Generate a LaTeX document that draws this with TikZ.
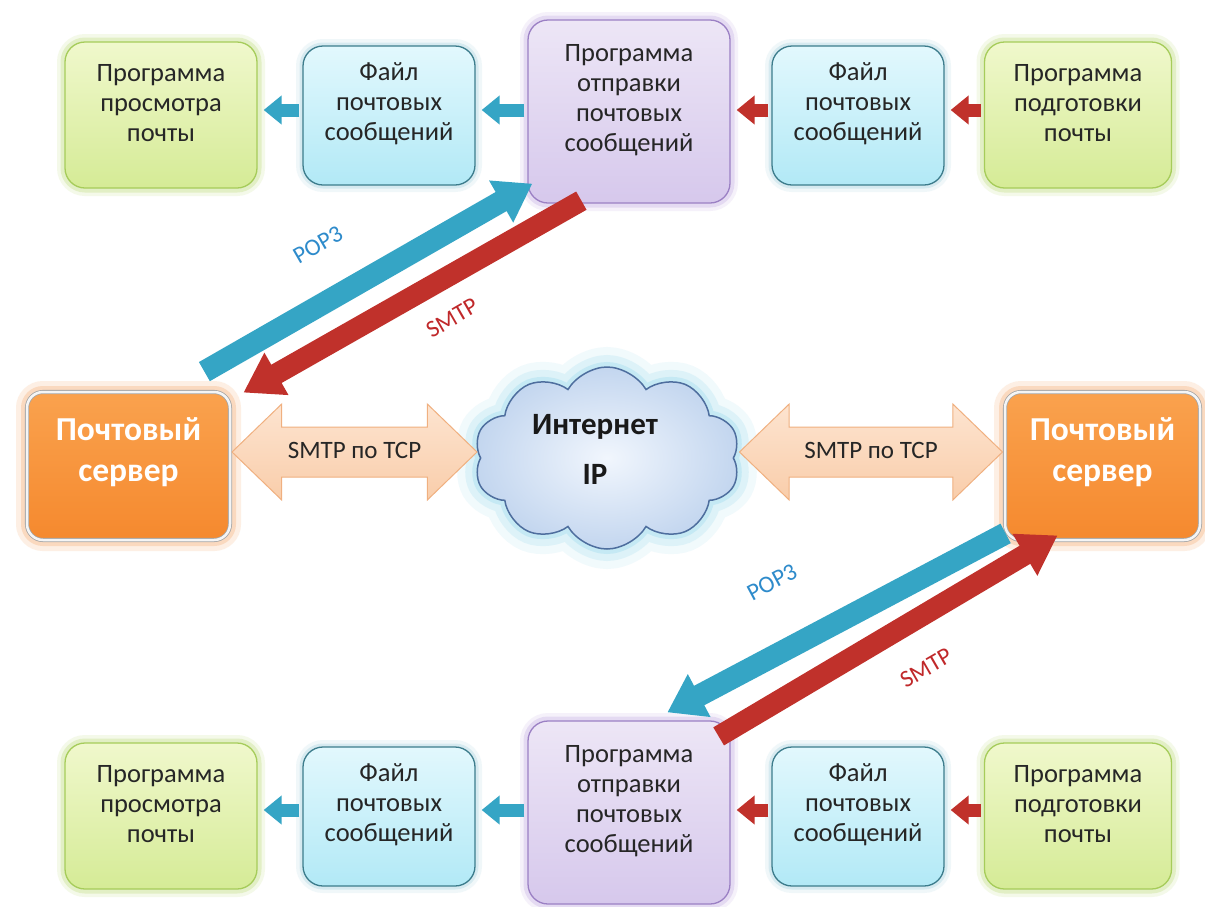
\documentclass[tikz,border=0pt]{standalone}
\usepackage{fontspec}
\setmainfont{Carlito}
\usetikzlibrary{arrows.meta,shapes.symbols,shapes.arrows,calc}
\definecolor{gTop}{HTML}{F0F8CC}
\definecolor{gBot}{HTML}{D5EB96}
\definecolor{gBorder}{HTML}{A6CC5A}
\definecolor{gGlow}{HTML}{B9DA72}
\definecolor{bTop}{HTML}{E2F8FD}
\definecolor{bBot}{HTML}{B2E9F6}
\definecolor{bBorder}{HTML}{3C7C8C}
\definecolor{bGlow}{HTML}{9CCFDD}
\definecolor{pTop}{HTML}{EDE6F6}
\definecolor{pBot}{HTML}{D6C8EC}
\definecolor{pBorder}{HTML}{9B80C4}
\definecolor{pGlow}{HTML}{BFA6E0}
\definecolor{oTop}{HTML}{FAA24E}
\definecolor{oBot}{HTML}{F5892E}
\definecolor{oGlow}{HTML}{F6B27A}
\definecolor{arrBlue}{HTML}{35A5C5}
\definecolor{arrRed}{HTML}{C0312B}
\definecolor{lblBlue}{HTML}{2E8BCB}
\definecolor{lblRed}{HTML}{C0282A}
\definecolor{peTop}{HTML}{FDE4D0}
\definecolor{peBot}{HTML}{F9CDAA}
\definecolor{peBorder}{HTML}{F0B080}
\definecolor{cIn}{HTML}{F1F6FD}
\definecolor{cOut}{HTML}{C3D6EF}
\definecolor{cBorder}{HTML}{4E6E9E}
\definecolor{cGlow}{HTML}{8FD6EC}
\begin{document}
\begin{tikzpicture}[x=1pt,y=-1pt,
  boxbase/.style={rectangle, rounded corners=20pt, line width=1.3pt, inner sep=0pt},
  boxtxt/.style={align=center, text=black!85, font=\fontsize{26.5}{30}\selectfont, yshift=11.5pt},
  gbox/.style={boxbase, draw=gBorder, top color=gTop, bottom color=gBot,
    preaction={draw=gGlow, line width=16pt, opacity=0.15},
    preaction={draw=gGlow, line width=9pt, opacity=0.3}},
  bbox/.style={boxbase, draw=bBorder, top color=bTop, bottom color=bBot,
    preaction={draw=bGlow, line width=14pt, opacity=0.15},
    preaction={draw=bGlow, line width=7pt, opacity=0.3}},
  pbox/.style={boxbase, draw=pBorder, top color=pTop, bottom color=pBot,
    preaction={draw=pGlow, line width=16pt, opacity=0.15},
    preaction={draw=pGlow, line width=9pt, opacity=0.3}},
  sbox/.style={boxbase, rounded corners=16pt, draw=black!35, line width=0.8pt, double=white!92!gray, double distance=2.5pt,
    top color=oTop, bottom color=oBot,
    preaction={draw=oGlow, line width=22pt, opacity=0.2},
    preaction={draw=oGlow, line width=12pt, opacity=0.35}},
  stxt/.style={align=center, text=white, font=\fontsize{33.5}{41}\bfseries\selectfont, yshift=14pt},
  sarrB/.style={draw=arrBlue, line width=13pt, -{Triangle[length=18pt,width=28pt]}, shorten <=3pt, shorten >=6pt},
  sarrR/.style={draw=arrRed, line width=13pt, -{Triangle[length=18pt,width=28pt]}, shorten <=3pt, shorten >=6pt},
  bigB/.style={draw=arrBlue, line width=22pt, -{Triangle[length=36pt,width=46pt]}},
  bigR/.style={draw=arrRed, line width=21pt, -{Triangle[length=38pt,width=46pt]}},
  plbl/.style={text=lblBlue, font=\fontsize{24}{26}\selectfont},
  slbl/.style={text=lblRed, font=\fontsize{24}{26}\selectfont},
  dbl/.style={double arrow, double arrow head extend=23pt, double arrow tip angle=88,
    minimum width=95pt, minimum height=245pt, draw=peBorder, line width=1pt,
    top color=peTop, bottom color=peBot, text=black!85,
    font=\fontsize{25}{28}\selectfont, inner xsep=0pt, inner ysep=13.5pt, text height=17pt, text depth=5pt}
]
\useasboundingbox (0,0) rectangle (1205,906);
\fill[white] (0,0) rectangle (1205,906);

\coordinate (rowT) at (0,110);
\coordinate (rowB) at (0,810);

% top row
\node[gbox, minimum width=192pt, minimum height=146pt, label={[boxtxt]center:Программа\\просмотра\\почты}] (g1) at (161,115) {};
\node[bbox, minimum width=172pt, minimum height=139pt, label={[boxtxt]center:Файл\\почтовых\\сообщений}] (b1) at (389,115.5) {};
\node[pbox, minimum width=202pt, minimum height=183pt, label={[boxtxt]center:Программа\\отправки\\почтовых\\сообщений}] (pT) at (629,111.5) {};
\node[bbox, minimum width=172pt, minimum height=139pt, label={[boxtxt]center:Файл\\почтовых\\сообщений}] (b2) at (858,115.5) {};
\node[gbox, minimum width=187pt, minimum height=146pt, label={[boxtxt]center:Программа\\подготовки\\почты}] (g2) at (1078,115) {};

% bottom row
\node[gbox, minimum width=192pt, minimum height=146pt, label={[boxtxt]center:Программа\\просмотра\\почты}] (g3) at (161,816) {};
\node[bbox, minimum width=172pt, minimum height=139pt, label={[boxtxt]center:Файл\\почтовых\\сообщений}] (b3) at (389,816.5) {};
\node[pbox, minimum width=202pt, minimum height=183pt, label={[boxtxt]center:Программа\\отправки\\почтовых\\сообщений}] (pB) at (629,812.5) {};
\node[bbox, minimum width=172pt, minimum height=139pt, label={[boxtxt]center:Файл\\почтовых\\сообщений}] (b4) at (858,816.5) {};
\node[gbox, minimum width=187pt, minimum height=146pt, label={[boxtxt]center:Программа\\подготовки\\почты}] (g4) at (1078,816) {};

% servers
\node[sbox, minimum width=203pt, minimum height=148pt, label={[stxt]center:Почтовый\\сервер}] (sL) at (128.5,466) {};
\node[sbox, minimum width=195pt, minimum height=148pt, label={[stxt]center:Почтовый\\сервер}] (sR) at (1102.5,466) {};

% cloud
\node[cloud, cloud puffs=10, cloud puff arc=120, aspect=1.45, minimum width=266pt, minimum height=182pt,
  draw=cBorder, line width=1.5pt, inner color=cIn, outer color=cOut,
  preaction={draw=cGlow, line width=40pt, opacity=0.12},
  preaction={draw=cGlow, line width=24pt, opacity=0.2},
  preaction={draw=cGlow, line width=10pt, opacity=0.3},
  label={[align=center, font=\fontsize{31}{50}\bfseries\selectfont, text=black!90, xshift=-12pt, yshift=9pt]center:Интернет\\IP}] (net) at (607,458) {};

% double arrows
\node[dbl] (dL) at (354.5,452) {SMTP по TCP};
\node[dbl, minimum height=263pt] (dR) at (871,452) {SMTP по TCP};

% small arrows top
\draw[sarrB] (b1.west |- rowT) -- (g1.east |- rowT);
\draw[sarrB] (pT.west |- rowT) -- (b1.east |- rowT);
\draw[sarrR] (b2.west |- rowT) -- (pT.east |- rowT);
\draw[sarrR] (g2.west |- rowT) -- (b2.east |- rowT);
% small arrows bottom
\draw[sarrB] (b3.west |- rowB) -- (g3.east |- rowB);
\draw[sarrB] (pB.west |- rowB) -- (b3.east |- rowB);
\draw[sarrR] (b4.west |- rowB) -- (pB.east |- rowB);
\draw[sarrR] (g4.west |- rowB) -- (b4.east |- rowB);

% diagonal arrows upper
\draw[bigB] ($(sL.north east)+(-26,-20)$) -- ($(pT.south west)+(5,-20)$);
\draw[bigR] ($(pT.south west)+(54,-3)$) -- ($(sL.north east)+(13,1)$);
\node[plbl, rotate=30] (popT) at (318,245) {POP3};
\node[slbl, rotate=30] (smT) at (452,318) {SMTP};

% diagonal arrows lower
\draw[bigB] ($(sR.south west)+(1,-7)$) -- ($(pB.north west)+(140,-8)$);
\draw[bigR] ($(pB.north east)+(-12,16)$) -- ($(sR.south west)+(53,-5)$);
\node[plbl, rotate=28] (popB) at (772,582) {POP3};
\node[slbl, rotate=30] (smB) at (926,668) {SMTP};
\end{tikzpicture}
\end{document}
